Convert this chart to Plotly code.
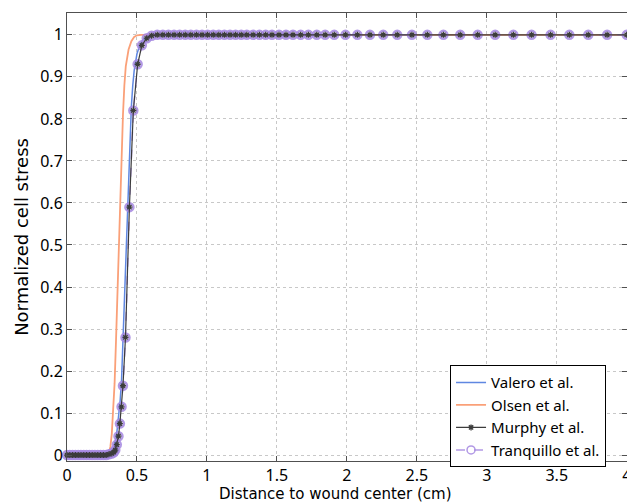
import plotly.graph_objects as go

# Valero et al.
valero_x = [0, 0.31, 0.33, 0.35, 0.36, 0.37, 0.38, 0.39, 0.40, 0.41, 0.42, 0.43, 0.44,
            0.45, 0.46, 0.47, 0.48, 0.50, 0.52, 0.54, 0.57, 0.60, 0.65, 4.0]
valero_y = [0, 0, 0.01, 0.04, 0.065, 0.095, 0.13, 0.18, 0.27, 0.36, 0.46, 0.57, 0.67,
            0.76, 0.83, 0.88, 0.915, 0.955, 0.975, 0.987, 0.995, 0.999, 1, 1]

# Olsen et al.
olsen_x = [0, 0.28, 0.30, 0.31, 0.32, 0.33, 0.34, 0.35, 0.36, 0.37, 0.38, 0.39, 0.40,
           0.41, 0.42, 0.44, 0.46, 0.48, 0.50, 0.53, 0.56, 0.60, 4.0]
olsen_y = [0, 0, 0.005, 0.02, 0.05, 0.10, 0.17, 0.27, 0.38, 0.49, 0.60, 0.72, 0.81,
           0.88, 0.925, 0.965, 0.985, 0.995, 0.999, 1, 1, 1, 1]

# Murphy et al. / Tranquillo et al. (same mesh)
mesh_x = [0, 0.02, 0.04, 0.06, 0.08, 0.10, 0.12, 0.14, 0.16, 0.18, 0.20, 0.22, 0.24,
          0.26, 0.28, 0.30, 0.32, 0.335, 0.345, 0.356, 0.368, 0.378, 0.390, 0.400,
          0.418, 0.446, 0.474, 0.505, 0.535, 0.570, 0.605, 0.645, 0.685, 0.725, 0.765,
          0.805, 0.845, 0.885, 0.925, 0.965, 1.005, 1.045, 1.085, 1.125, 1.165, 1.205,
          1.245, 1.285, 1.33, 1.375, 1.42, 1.465, 1.515, 1.565, 1.615, 1.67, 1.725,
          1.785, 1.845, 1.91, 1.99, 2.075, 2.165, 2.26, 2.36, 2.465, 2.575, 2.69,
          2.81, 2.935, 3.06, 3.19, 3.32, 3.456, 3.59, 3.725, 3.86, 4.0]
murphy_y = [0, 0, 0, 0, 0, 0, 0, 0, 0, 0, 0, 0, 0,
            0, 0, 0.002, 0.004, 0.007, 0.012, 0.025, 0.045, 0.075, 0.115, 0.165,
            0.28, 0.59, 0.82, 0.93, 0.975, 0.992, 0.998, 1, 1, 1, 1,
            1, 1, 1, 1, 1, 1, 1, 1, 1, 1, 1,
            1, 1, 1, 1, 1, 1, 1, 1, 1, 1, 1,
            1, 1, 1, 1, 1, 1, 1, 1, 1, 1, 1,
            1, 1, 1, 1, 1, 1, 1, 1, 1, 1]
tranquillo_y = list(murphy_y)

x_ticks = [0, 0.5, 1, 1.5, 2, 2.5, 3, 3.5, 4]
x_tick_labels = ["0", "0.5", "1", "1.5", "2", "2.5", "3", "3.5", "4"]
y_ticks = [0, 0.1, 0.2, 0.3, 0.4, 0.5, 0.6, 0.7, 0.8, 0.9, 1]
y_tick_labels = ["0", "0.1", "0.2", "0.3", "0.4", "0.5", "0.6", "0.7", "0.8", "0.9", "1"]
x_title = "Distance to wound center (cm)"
y_title = "Normalized cell stress"

FONT = "Noto Sans"
TITLE_FONT = "DejaVu Sans"
PURPLE_LINE = "rgba(165,135,225,0.85)"
PURPLE_MARK = "rgba(150,115,215,0.65)"

fig = go.Figure()
fig.add_trace(go.Scatter(x=valero_x, y=valero_y, mode="lines", name="Valero et al.",
                         line=dict(color="rgb(95,135,225)", width=1.5)))
fig.add_trace(go.Scatter(x=olsen_x, y=olsen_y, mode="lines", name="Olsen et al.",
                         line=dict(color="rgb(250,160,120)", width=1.8)))
fig.add_trace(go.Scatter(x=mesh_x, y=tranquillo_y, mode="lines+markers", name="Tranquillo et al.",
                         line=dict(color=PURPLE_LINE, width=1.5, dash="dash"),
                         marker=dict(symbol="circle-open", size=8,
                                     line=dict(color=PURPLE_MARK, width=2.5)),
                         showlegend=False, cliponaxis=False))
fig.add_trace(go.Scatter(x=mesh_x, y=murphy_y, mode="lines+markers", name="Murphy et al.",
                         line=dict(color="rgb(60,60,60)", width=1.2),
                         marker=dict(symbol="asterisk-open", size=5,
                                     line=dict(color="black", width=1.3)),
                         cliponaxis=False))
# legend entry for Tranquillo in original order
fig.add_trace(go.Scatter(x=[None], y=[None], mode="lines+markers", name="Tranquillo et al.",
                         line=dict(color=PURPLE_LINE, width=1.5, dash="dash"),
                         marker=dict(symbol="circle-open", size=8,
                                     line=dict(color=PURPLE_MARK, width=1.5))))

axis_common = dict(showline=True, linecolor="rgb(80,80,80)", linewidth=1, mirror="ticks",
                   ticks="inside", ticklen=5, tickcolor="rgb(80,80,80)",
                   showgrid=True, gridcolor="rgb(200,200,200)", griddash="dot", gridwidth=1,
                   zeroline=False, ticklabeloverflow="allow",
                   tickfont=dict(family=FONT, size=16, color="black"))

# The page body adds an 8px margin, so the figure is sized to fit inside the window.
fig.update_layout(
    width=627, height=495,
    margin=dict(l=59, r=4, t=5, b=42),
    paper_bgcolor="white", plot_bgcolor="white",
    font=dict(family=FONT, color="black"),
    xaxis=dict(range=[0, 4.002], tickvals=x_ticks, ticktext=x_tick_labels, **axis_common),
    yaxis=dict(range=[-0.014, 1.052], tickvals=y_ticks, ticktext=y_tick_labels,
               title=dict(text=y_title, font=dict(family=TITLE_FONT, size=18), standoff=6),
               **axis_common),
    legend=dict(x=0.684, y=0.214, xanchor="left", yanchor="top",
                bordercolor="black", borderwidth=1, bgcolor="white",
                font=dict(family=FONT, size=15), tracegroupgap=0,
                itemwidth=30),
    annotations=[dict(text=x_title, xref="paper", yref="paper", x=0.48, y=-0.074,
                      xanchor="center", yanchor="middle", showarrow=False,
                      font=dict(family=TITLE_FONT, size=15, color="black"))],
)

fig.write_html("out.html")
